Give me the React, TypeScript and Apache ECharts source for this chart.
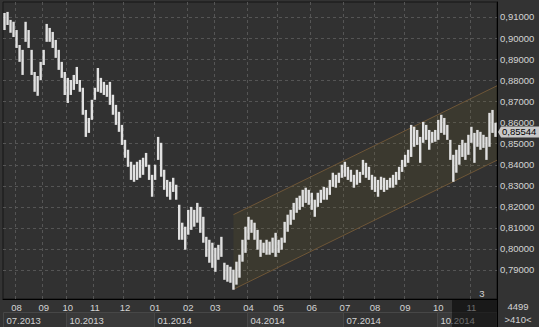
import React, { useEffect, useRef } from 'react';
import * as echarts from 'echarts';

// Daily bar highs / lows (one bar ≈ 3 px)
const highs = [
  0.9119, 0.9124, 0.9086, 0.9077, 0.9038, 0.8967, 0.8944, 0.9077, 0.9038, 0.8944,
  0.8839, 0.8820, 0.8887, 0.8944, 0.9067, 0.9048, 0.9029, 0.8991, 0.8944, 0.8887,
  0.8839, 0.8811, 0.8801, 0.8825, 0.8863, 0.8801, 0.8764, 0.8659, 0.8621, 0.8707,
  0.8764, 0.8858, 0.8811, 0.8792, 0.8778, 0.8792, 0.8731, 0.8683, 0.8650, 0.8588,
  0.8517, 0.8470, 0.8413, 0.8399, 0.8413, 0.8422, 0.8432, 0.8455, 0.8399, 0.8351,
  0.8399, 0.8531, 0.8503, 0.8375, 0.8327, 0.8318, 0.8337, 0.8304, 0.8209, 0.8124,
  0.8105, 0.8185, 0.8199, 0.8185, 0.8218, 0.8199, 0.8152, 0.8057, 0.8043, 0.8029,
  0.8005, 0.8019, 0.8057, 0.7934, 0.7924, 0.7915, 0.7901, 0.7939, 0.7972, 0.8043,
  0.8105, 0.8152, 0.8138, 0.8124, 0.8090, 0.8043, 0.8029, 0.8043, 0.8034, 0.8053,
  0.8076, 0.8043, 0.8053, 0.8128, 0.8162, 0.8185, 0.8218, 0.8242, 0.8252, 0.8280,
  0.8290, 0.8280, 0.8266, 0.8233, 0.8266, 0.8280, 0.8294, 0.8290, 0.8327, 0.8361,
  0.8351, 0.8361, 0.8399, 0.8413, 0.8389, 0.8375, 0.8351, 0.8375, 0.8365, 0.8422,
  0.8408, 0.8389, 0.8351, 0.8342, 0.8327, 0.8342, 0.8337, 0.8327, 0.8337, 0.8351,
  0.8365, 0.8389, 0.8422, 0.8446, 0.8470, 0.8588, 0.8579, 0.8564, 0.8531, 0.8602,
  0.8588, 0.8564, 0.8555, 0.8564, 0.8612, 0.8636, 0.8621, 0.8588, 0.8517, 0.8446,
  0.8470, 0.8493, 0.8517, 0.8503, 0.8541, 0.8579, 0.8550, 0.8564, 0.8555, 0.8541,
  0.8531, 0.8645, 0.8659, 0.8598,
];
const lows = [
  0.9038, 0.9062, 0.9025, 0.9005, 0.8953, 0.8887, 0.8825, 0.8982, 0.8953, 0.8825,
  0.8745, 0.8726, 0.8801, 0.8872, 0.8982, 0.8982, 0.8953, 0.8906, 0.8849, 0.8811,
  0.8730, 0.8692, 0.8730, 0.8754, 0.8782, 0.8745, 0.8636, 0.8531, 0.8550, 0.8612,
  0.8707, 0.8745, 0.8740, 0.8730, 0.8721, 0.8683, 0.8636, 0.8588, 0.8555, 0.8493,
  0.8432, 0.8389, 0.8327, 0.8318, 0.8327, 0.8337, 0.8351, 0.8389, 0.8327, 0.8247,
  0.8327, 0.8422, 0.8342, 0.8280, 0.8247, 0.8233, 0.8270, 0.8233, 0.8043, 0.8043,
  0.7996, 0.8067, 0.8090, 0.8105, 0.8124, 0.8076, 0.8029, 0.7962, 0.7934, 0.7910,
  0.7891, 0.7948, 0.7962, 0.7853, 0.7844, 0.7839, 0.7806, 0.7830, 0.7863, 0.7939,
  0.7981, 0.8043, 0.8076, 0.8043, 0.7996, 0.7962, 0.7981, 0.7972, 0.7972, 0.7981,
  0.7962, 0.7981, 0.7996, 0.8029, 0.8081, 0.8114, 0.8138, 0.8171, 0.8185, 0.8199,
  0.8218, 0.8209, 0.8185, 0.8152, 0.8199, 0.8218, 0.8233, 0.8233, 0.8256, 0.8294,
  0.8290, 0.8313, 0.8337, 0.8342, 0.8327, 0.8318, 0.8290, 0.8304, 0.8313, 0.8351,
  0.8337, 0.8327, 0.8280, 0.8270, 0.8247, 0.8280, 0.8270, 0.8280, 0.8290, 0.8290,
  0.8304, 0.8327, 0.8365, 0.8389, 0.8408, 0.8436, 0.8484, 0.8493, 0.8408, 0.8503,
  0.8517, 0.8470, 0.8503, 0.8508, 0.8517, 0.8550, 0.8541, 0.8517, 0.8422, 0.8318,
  0.8361, 0.8399, 0.8436, 0.8422, 0.8446, 0.8503, 0.8408, 0.8484, 0.8470, 0.8479,
  0.8422, 0.8484, 0.8550, 0.8531,
];
const lastClose = 0.85544;

const monthStarts = [4, 13, 21, 30, 40, 50, 61, 70, 81, 91, 102, 113, 123, 133, 144, 155];
const monthLabels = ['08', '09', '10', '11', '12', '01', '02', '03', '04', '05', '06', '07', '08', '09', '10', '11'];
const quarterStarts = [0, 21, 50, 81, 113, 144];
const quarterLabels = ['07.2013', '10.2013', '01.2014', '04.2014', '07.2014', '10.2014'];
const yTicks = [0.79, 0.8, 0.81, 0.82, 0.83, 0.84, 0.85, 0.86, 0.87, 0.88, 0.89, 0.9, 0.91];

// regression channel: [start, end] bar index, upper / lower values
const channelIdx = [76, 163];
const channelUpper = [0.8162, 0.877];
const channelLower = [0.7808, 0.8417];

const viewStartIdx = 149;
const footerTexts = ['4499', '>410<'];
const cornerMark = '3';

const Y_MIN = 0.7762;
const Y_MAX = 0.9171;

export default function App() {
  const ref = useRef<HTMLDivElement>(null);
  useEffect(() => {
    if (!ref.current) return;
    const chart = echarts.init(ref.current, null, { renderer: 'svg' });
    const N = highs.length;
    const cats = highs.map((_, i) => String(i));
    const monthMap = new Map<number, string>(monthStarts.map((m, k) => [m, monthLabels[k]]));
    const FONT = '"Liberation Sans", Arial, sans-serif';
    const FS = 9.5;
    const TXT = '#d4d4d4';
    const fmt = (v: number) => v.toFixed(5).replace('.', ',');

    const vGrid = {
      type: 'custom', z: 1, silent: true,
      data: monthStarts.map((m) => [m, Y_MAX]),
      renderItem: (params: any, api: any) => {
        const cs = params.coordSys;
        const bw = api.size([1, 0])[0];
        const x = Math.round(api.coord([api.value(0), Y_MAX])[0] - bw / 2) + 0.5;
        return { type: 'line', shape: { x1: x, y1: cs.y, x2: x, y2: cs.y + cs.height },
          style: { stroke: '#555555', lineWidth: 1, lineDash: [3, 3] } };
      },
    };
    const hGrid = {
      type: 'custom', z: 1, silent: true,
      data: yTicks.map((v) => [0, v]),
      renderItem: (params: any, api: any) => {
        const cs = params.coordSys;
        const y = Math.round(api.coord([0, api.value(1)])[1]) + 0.5;
        return { type: 'line', shape: { x1: cs.x, y1: y, x2: cs.x + cs.width, y2: y },
          style: { stroke: '#555555', lineWidth: 1, lineDash: [3, 3] } };
      },
    };
    const channel = {
      type: 'custom', z: 2, silent: true,
      data: [[channelIdx[0], channelUpper[0]]],
      renderItem: (params: any, api: any) => {
        const cs = params.coordSys;
        const sU = api.coord([channelIdx[0], channelUpper[0]]);
        const sL = api.coord([channelIdx[0], channelLower[0]]);
        const eU = api.coord([channelIdx[1], channelUpper[1]]);
        const eL = api.coord([channelIdx[1], channelLower[1]]);
        const xr = cs.x + cs.width;
        const t = (xr - sU[0]) / (eU[0] - sU[0]);
        const yU = sU[1] + (eU[1] - sU[1]) * t;
        const yL = sL[1] + (eL[1] - sL[1]) * t;
        return {
          type: 'group',
          children: [
            { type: 'polygon', shape: { points: [[sU[0], sU[1]], [xr, yU], [xr, yL], [sL[0], sL[1]]] },
              style: { fill: 'rgba(110,102,40,0.17)' } },
            { type: 'line', shape: { x1: sU[0], y1: sU[1], x2: xr, y2: yU }, style: { stroke: '#6e5637', lineWidth: 1 } },
            { type: 'line', shape: { x1: sL[0], y1: sL[1], x2: xr, y2: yL }, style: { stroke: '#6e5637', lineWidth: 1 } },
          ],
        };
      },
    };
    const bars = {
      type: 'custom', z: 3, silent: true,
      data: highs.map((h, i) => [i, lows[i], h]),
      encode: { x: 0, y: [1, 2] },
      renderItem: (params: any, api: any) => {
        const lo = api.coord([api.value(0), api.value(1)]);
        const hi = api.coord([api.value(0), api.value(2)]);
        return { type: 'rect', shape: { x: lo[0] - 1.2, y: hi[1], width: 2.4, height: Math.max(1, lo[1] - hi[1]) },
          style: { fill: '#e0e0e0' } };
      },
    };
    const quarters = {
      type: 'custom', z: 4, silent: true,
      data: quarterStarts.map((s) => [s, Y_MIN]),
      renderItem: (params: any, api: any) => {
        const cs = params.coordSys;
        const k = params.dataIndex;
        const s = quarterStarts[k];
        const e = k + 1 < quarterStarts.length ? quarterStarts[k + 1] : N;
        const bw = api.size([1, 0])[0];
        const x0 = Math.round(api.coord([s, Y_MIN])[0] - bw / 2) + 0.5;
        const x1 = e < N ? Math.round(api.coord([e, Y_MIN])[0] - bw / 2) + 0.5 : cs.x + cs.width;
        const yTop = cs.y + cs.height + 13.5;
        return {
          type: 'group',
          children: [
            { type: 'rect', shape: { x: x0, y: yTop, width: x1 - x0, height: 16 },
              style: { fill: k % 2 ? '#3a3a3a' : '#333333', stroke: '#474747', lineWidth: 1 } },
            { type: 'text', x: x0 + 3, y: yTop + 7.5,
              style: { text: quarterLabels[k], fill: TXT, fontSize: FS, fontFamily: FONT, align: 'left', verticalAlign: 'middle' } },
          ],
        };
      },
    };
    const overlay = {
      type: 'custom', z: 5, silent: true,
      data: [[viewStartIdx, Y_MIN]],
      renderItem: (params: any, api: any) => {
        const cs = params.coordSys;
        const bw = api.size([1, 0])[0];
        const x0 = Math.round(api.coord([api.value(0), Y_MIN])[0] - bw / 2);
        const xr = cs.x + cs.width;
        const yb = cs.y + cs.height;
        return {
          type: 'group',
          children: [
            { type: 'rect', shape: { x: x0, y: yb + 1, width: xr - x0, height: 28 }, style: { fill: 'rgba(0,0,0,0.5)' } },
            { type: 'line', shape: { x1: xr + 0.5, y1: yb, x2: xr + 0.5, y2: yb + 30 }, style: { stroke: '#000', lineWidth: 1 } },
          ],
        };
      },
    };
    const priceTag = {
      type: 'custom', z: 6, silent: true,
      data: [[N - 1, lastClose]],
      renderItem: (params: any, api: any) => {
        const cs = params.coordSys;
        const y = api.coord([api.value(0), api.value(1)])[1];
        const xr = cs.x + cs.width;
        return {
          type: 'group',
          children: [
            { type: 'polygon', shape: { points: [[xr + 1, y], [xr + 4, y - 5.5], [xr + 4, y + 5.5]] }, style: { fill: '#c8c8c8' } },
            { type: 'rect', shape: { x: xr + 4, y: y - 5.5, width: 38, height: 11 }, style: { fill: '#c8c8c8' } },
            { type: 'text', x: xr + 5, y: y,
              style: { text: fmt(api.value(1)), fill: '#000', fontSize: FS, fontFamily: FONT, align: 'left', verticalAlign: 'middle' } },
          ],
        };
      },
    };

    const option = {
      animation: false,
      backgroundColor: '#333333',
      grid: { left: 3, right: 42, top: 2, bottom: 28, show: true, backgroundColor: '#313131', borderColor: '#161616', borderWidth: 1 },
      xAxis: {
        type: 'category', data: cats, boundaryGap: true,
        axisLine: { show: true, lineStyle: { color: '#000', width: 1 } },
        axisTick: { show: false },
        splitLine: { show: false },
        axisLabel: {
          interval: (i: number) => monthMap.has(i),
          formatter: (_v: string, i: number) => monthMap.get(i) ?? '',
          color: TXT, fontSize: FS, fontFamily: FONT, margin: 3,
        },
      },
      yAxis: {
        type: 'value', position: 'right', min: Y_MIN, max: Y_MAX,
        axisLine: { show: true, lineStyle: { color: '#000' } },
        axisTick: { show: false },
        splitLine: { show: false },
        axisLabel: { customValues: yTicks, formatter: fmt, color: TXT, fontSize: FS, fontFamily: FONT, margin: 3 },
      },
      graphic: [
        { type: 'text', x: 518, y: 306, z: 10, style: { text: footerTexts[0], fill: TXT, fontSize: FS, fontFamily: FONT, textAlign: 'center', textVerticalAlign: 'middle', align: 'center', verticalAlign: 'middle' } },
        { type: 'text', x: 518, y: 319, z: 10, style: { text: footerTexts[1], fill: TXT, fontSize: FS, fontFamily: FONT, textAlign: 'center', textVerticalAlign: 'middle', align: 'center', verticalAlign: 'middle' } },
        { type: 'text', x: 482, y: 293, z: 10, style: { text: cornerMark, fill: TXT, fontSize: FS, fontFamily: FONT, textAlign: 'center', textVerticalAlign: 'middle', align: 'center', verticalAlign: 'middle' } },
      ],
      series: [vGrid, hGrid, channel, bars, quarters, overlay, priceTag],
    };
    chart.setOption(option as any);
    return () => chart.dispose();
  }, []);
  return <div ref={ref} style={{ position: 'fixed', left: 0, top: 0, width: 539, height: 327 }} />;
}
